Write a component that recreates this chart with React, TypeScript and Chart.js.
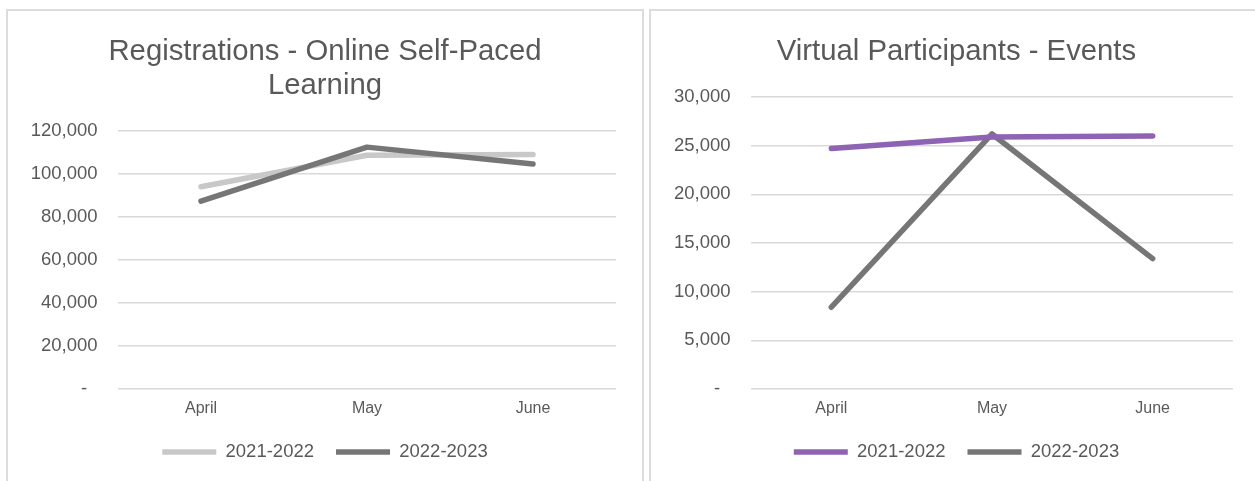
import React, { useEffect, useRef } from "react";
import { Chart, registerables } from "chart.js";

Chart.register(...registerables);

// ---- data ----
const months = ["April", "May", "June"];
const seriesNames = ["2021-2022", "2022-2023"];

const registrations2122 = [94100, 108700, 109100];
const registrations2223 = [87400, 112500, 104600];

const virtual2122 = [24700, 25900, 26000];
const virtual2223 = [8400, 26200, 13400];

const regTitle = ["Registrations - Online Self-Paced", "Learning"];
const virtualTitle = ["Virtual Participants - Events"];

const regMax = 120000;
const regStep = 20000;
const virtualMax = 30000;
const virtualStep = 5000;

// ---- styles ----
const FONT = "'Liberation Sans', Arial, sans-serif";
const TEXT = "#595959";
const GRID = "#d9d9d9";
const LIGHT = "#c8c8c8";
const DARK = "#767676";
const PURPLE = "#8e63b4";

type Cfg = {
  title: string[];
  colors: string[];
  values: number[][];
  orders: number[];
  max: number;
  step: number;
  yAxisWidth: number;
  rightGap: number;
};

function buildConfig(c: Cfg): any {
  return {
    type: "line",
    data: {
      labels: months,
      datasets: c.values.map((v, i) => ({
        label: seriesNames[i],
        data: v,
        yAxisID: "y",
        borderColor: c.colors[i],
        backgroundColor: c.colors[i],
        borderWidth: 5.5,
        borderCapStyle: "round",
        borderJoinStyle: "round",
        pointRadius: 0,
        pointHoverRadius: 0,
        tension: 0,
        fill: false,
        order: c.orders[i],
      })),
    },
    options: {
      responsive: false,
      animation: false,
      devicePixelRatio: 1,
      layout: {
        padding: { left: 0, right: 0, top: 0, bottom: 9.75 },
      },
      plugins: {
        tooltip: { enabled: false },
        title: {
          display: true,
          text: c.title,
          color: TEXT,
          font: { family: FONT, size: 29.3, weight: "normal", lineHeight: 34 / 29.3 },
          padding: { top: 23.5, bottom: 28.5 },
        },
        legend: {
          display: true,
          position: "bottom",
          align: "center",
          labels: {
            usePointStyle: true,
            pointStyle: "line",
            pointStyleWidth: 54,
            padding: 22,
            color: TEXT,
            font: { family: FONT, size: 18.5 },
            sort: (a: any, b: any) => a.datasetIndex - b.datasetIndex,
          },
        },
      },
      scales: {
        x: {
          type: "category",
          offset: true,
          grid: { display: false, drawTicks: false },
          border: { display: false },
          ticks: {
            color: TEXT,
            padding: 10,
            font: { family: FONT, size: 16 },
            maxRotation: 0,
          },
          afterFit: (s: any) => {
            s.height = 31.75;
          },
        },
        y: {
          type: "linear",
          position: "left",
          min: 0,
          max: c.max,
          grid: { color: GRID, lineWidth: 1.5, drawTicks: false },
          border: { display: false },
          ticks: {
            stepSize: c.step,
            color: TEXT,
            padding: 20.5,
            font: { family: FONT, size: 18.5 },
            callback: (v: any) => (Number(v) === 0 ? "-  " : Number(v).toLocaleString("en-US")),
          },
          afterFit: (s: any) => {
            s.width = c.yAxisWidth;
          },
        },
        gap: {
          type: "linear",
          position: "right",
          display: true,
          grid: { display: false, drawTicks: false },
          border: { display: false },
          ticks: { display: false },
          afterFit: (s: any) => {
            s.width = c.rightGap;
          },
        },
      },
    },
  };
}

function ChartBox(props: { cfg: Cfg; width: number; height: number }) {
  const ref = useRef<HTMLCanvasElement | null>(null);
  useEffect(() => {
    if (!ref.current) return;
    const chart = new Chart(ref.current, buildConfig(props.cfg));
    return () => chart.destroy();
  }, []);
  return (
    <canvas
      ref={ref}
      width={props.width}
      height={props.height}
      style={{ display: "block", width: props.width, height: props.height }}
    />
  );
}

export default function App() {
  const leftCfg: Cfg = {
    title: regTitle,
    colors: [LIGHT, DARK],
    values: [registrations2122, registrations2223],
    orders: [1, 0],
    max: regMax,
    step: regStep,
    yAxisWidth: 110,
    rightGap: 26,
  };
  const rightCfg: Cfg = {
    title: virtualTitle,
    colors: [PURPLE, DARK],
    values: [virtual2122, virtual2223],
    orders: [0, 1],
    max: virtualMax,
    step: virtualStep,
    yAxisWidth: 100,
    rightGap: 29,
  };
  const box: React.CSSProperties = {
    position: "absolute",
    top: 9,
    height: 480,
    border: "2px solid #dcdcdc",
    background: "#ffffff",
    overflow: "hidden",
  };
  return (
    <div
      style={{
        position: "fixed",
        left: 0,
        top: 0,
        width: 1255,
        height: 481,
        overflow: "hidden",
        background: "#ffffff",
      }}
    >
      <div style={{ ...box, left: 6, width: 634 }}>
        <ChartBox cfg={leftCfg} width={634} height={470} />
      </div>
      <div style={{ ...box, left: 649, width: 611 }}>
        <ChartBox cfg={rightCfg} width={611} height={470} />
      </div>
    </div>
  );
}
